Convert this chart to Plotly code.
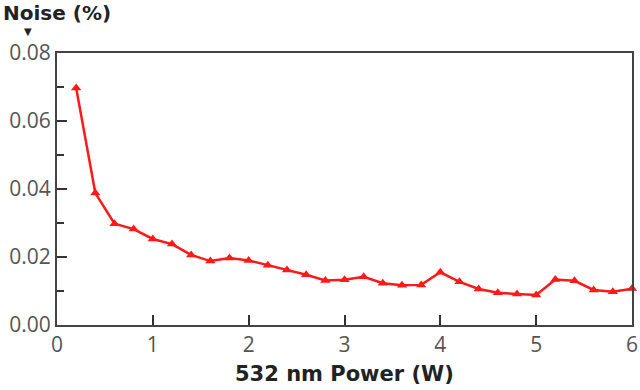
import plotly.graph_objects as go

power_w = [0.2, 0.4, 0.6, 0.8, 1.0, 1.2, 1.4, 1.6, 1.8, 2.0,
           2.2, 2.4, 2.6, 2.8, 3.0, 3.2, 3.4, 3.6, 3.8, 4.0,
           4.2, 4.4, 4.6, 4.8, 5.0, 5.2, 5.4, 5.6, 5.8, 6.0]
noise_pct = [0.0697, 0.0388, 0.0298, 0.0282, 0.0253, 0.0238, 0.0206, 0.0188, 0.0197, 0.0190,
             0.0176, 0.0162, 0.0148, 0.0131, 0.0133, 0.0142, 0.0123, 0.0117, 0.0118, 0.0155,
             0.0127, 0.0106, 0.0095, 0.0091, 0.0088, 0.0134, 0.0130, 0.0103, 0.0098, 0.0107]
x_ticks = [0, 1, 2, 3, 4, 5, 6]
y_ticks = [0.00, 0.02, 0.04, 0.06, 0.08]
y_tick_labels = ["0.00", "0.02", "0.04", "0.06", "0.08"]

tick_font = "Open Sans, Noto Sans, sans-serif"
title_font = "DejaVu Sans, Verdana, sans-serif"

fig = go.Figure()
fig.add_trace(go.Scatter(
    x=power_w, y=noise_pct, mode="lines+markers",
    line=dict(color="#ff1a1a", width=2.5),
    marker=dict(symbol="triangle-up", size=9, color="#ff1a1a"),
    cliponaxis=False, showlegend=False,
))

axis_common = dict(
    showline=True, linecolor="#444444", linewidth=2, mirror=True,
    showgrid=False, zeroline=False, automargin=False,
    ticks="inside", tickcolor="#333333", tickwidth=1.5, ticklen=10,
    tickfont=dict(family=tick_font, size=21, color="#555555"),
)

fig.update_xaxes(range=[0, 6], tickvals=x_ticks, **axis_common)
fig.update_yaxes(
    range=[0, 0.08], tickvals=y_ticks, ticktext=y_tick_labels, **axis_common,
    minor=dict(ticks="inside", tickvals=[0.01, 0.03, 0.05, 0.07], ticklen=7,
               tickcolor="#333333", tickwidth=1.5),
)

fig.add_annotation(text="<b>532 nm Power (W)</b>", xref="paper", yref="paper",
                   x=0.5, y=-0.18, xanchor="center", yanchor="middle", showarrow=False,
                   font=dict(family=title_font, size=21, color="#222222"))
fig.add_annotation(text="<b>Noise (%)</b>", xref="paper", yref="paper",
                   x=-0.0957, y=1.195, xanchor="left", yanchor="top", showarrow=False,
                   borderpad=0,
                   font=dict(family=title_font, size=20, color="#222222"))
fig.add_annotation(text="▼", xref="paper", yref="paper",
                   x=-0.0496, y=1.079, xanchor="center", yanchor="middle", showarrow=False,
                   borderpad=0,
                   font=dict(family=title_font, size=10, color="#222222"))

fig.update_layout(
    width=640, height=390,
    margin=dict(l=57, r=8, t=53, b=65),
    paper_bgcolor="white", plot_bgcolor="white",
)

fig.write_html("out.html",
               config={"displayModeBar": False},
               post_script="document.body.style.margin='0';document.body.style.overflow='hidden';")
